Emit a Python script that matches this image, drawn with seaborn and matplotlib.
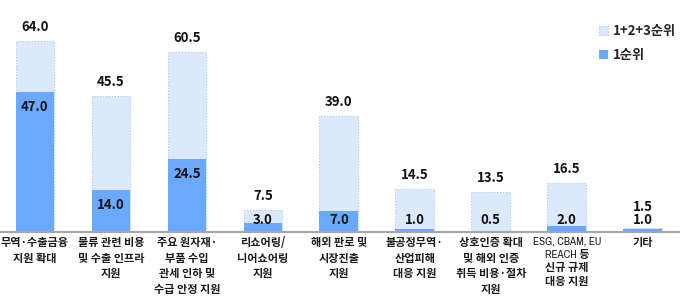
import matplotlib
matplotlib.use("Agg")
import matplotlib.pyplot as plt
import seaborn as sns
import pandas as pd
from matplotlib.patches import Patch

categories = [
    "무역·수출금융\n지원 확대",
    "물류 관련 비용\n및 수출 인프라\n지원",
    "주요 원자재·\n부품 수입\n관세 인하 및\n수급 안정 지원",
    "리쇼어링/\n니어쇼어링\n지원",
    "해외 판로 및\n시장진출\n지원",
    "불공정무역·\n산업피해\n대응 지원",
    "상호인증 확대\n및 해외 인증\n취득 비용·절차\n지원",
    "ESG, CBAM, EU\nREACH 등\n신규 규제\n대응 지원",
    "기타",
]
total_123 = [64.0, 45.5, 60.5, 7.5, 39.0, 14.5, 13.5, 16.5, 1.5]
first_rank = [47.0, 14.0, 24.5, 3.0, 7.0, 1.0, 0.5, 2.0, 1.0]
series_names = ["1+2+3순위", "1순위"]

sns.set_theme(style="white")
plt.rcParams["font.family"] = ["Noto Sans CJK KR", "DejaVu Sans"]

light = "#dce8fc"
light_edge = "#a8c7f5"
dark = "#69a9ff"

df = pd.DataFrame({"cat": categories, "total": total_123, "first": first_rank})

fig = plt.figure(figsize=(6.8, 3.01), dpi=100)
ax = fig.add_axes([0.0, 0.229, 1.0, 0.771])

sns.barplot(data=df, x="cat", y="total", color=light, width=0.51, ax=ax,
            saturation=1, edgecolor=light_edge, linewidth=0.8, linestyle=":")
sns.barplot(data=df, x="cat", y="first", color=dark, width=0.51, ax=ax,
            saturation=1, edgecolor="none", linewidth=0)

ax.set_xlim(-0.46, 8.49)
ax.set_ylim(0, 77.8)
ax.set_xlabel("")
ax.set_ylabel("")
ax.set_yticks([])
for s in ["top", "right", "left"]:
    ax.spines[s].set_visible(False)
ax.spines["bottom"].set_color("#a6a6a6")
ax.spines["bottom"].set_linewidth(1.5)
ax.tick_params(axis="x", length=0, pad=3)
ax.set_xticks(range(len(categories)))
ticklabels = ax.set_xticklabels(categories, fontsize=8, fontweight="bold", color="#1a1a1a",
                                linespacing=1.25, va="top")
for lab in ticklabels:
    if lab.get_text().startswith("ESG"):
        lab.set_family(["Archivo Narrow", "Noto Sans CJK KR"])
        lab.set_linespacing(1.45)

for i, (t, f) in enumerate(zip(total_123, first_rank)):
    fy = max(f - 5.0, 4.0)
    ax.text(i, fy, f"{f:.1f}", ha="center", va="center", fontsize=9.5,
            fontweight="bold", color="#111111")
    ty = max(t + 4.7, fy + 4.4)
    ax.text(i, ty, f"{t:.1f}", ha="center", va="center", fontsize=9.5,
            fontweight="bold", color="#111111")

handles = [Patch(facecolor=light, edgecolor=light_edge, linestyle=":", linewidth=0.8),
           Patch(facecolor=dark, edgecolor="none")]
leg = fig.legend(handles, series_names, loc="upper right", bbox_to_anchor=(1.012, 0.96),
                 frameon=False, handlelength=0.7, handleheight=0.7, handletextpad=0.4,
                 labelspacing=0.75, prop={"size": 9.5, "weight": "bold"})

fig.savefig("out.png", dpi=100)
